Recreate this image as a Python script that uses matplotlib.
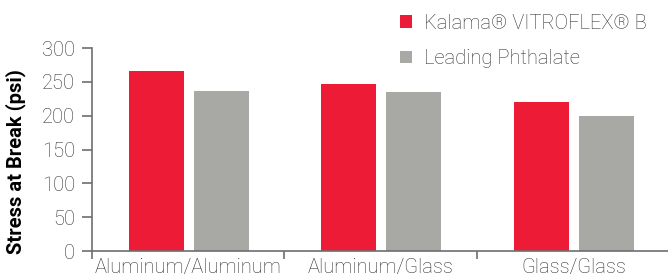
import matplotlib.pyplot as plt
import numpy as np

# data
categories = ['Aluminum/Aluminum', 'Aluminum/Glass', 'Glass/Glass']
vitroflex = [266, 247, 220]
phthalate = [237, 235, 200]
series_names = ['Kalama® VITROFLEX® B', 'Leading Phthalate']
y_ticks = [0, 50, 100, 150, 200, 250, 300]

red = '#ED1B36'
grey = '#A8A8A4'
axis_col = '#6D6E71'
text_col = '#333333'

plt.rcParams['font.family'] = ['Roboto', 'DejaVu Sans']
plt.rcParams['font.weight'] = 'light'

fig = plt.figure(figsize=(6.68, 2.78), dpi=100)
ax = fig.add_axes([0.137, 0.097, 0.866, 0.73])

x = np.arange(len(categories))
w = 0.285
ax.bar(x - 0.165, vitroflex, w, color=red, label=series_names[0])
ax.bar(x + 0.172, phthalate, w, color=grey, label=series_names[1])

ax.set_xlim(-0.5, 2.5)
ax.set_ylim(0, 300)
ax.spines['top'].set_visible(False)
ax.spines['right'].set_visible(False)
for s in ['left', 'bottom']:
    ax.spines[s].set_color(axis_col)
    ax.spines[s].set_linewidth(1.2)

ax.set_yticks(y_ticks)
ax.set_yticklabels([str(v) for v in y_ticks])
ax.tick_params(axis='y', length=7, width=1.2, color=axis_col, labelsize=14.5,
               labelcolor=text_col, pad=5)

ax.set_xticks(x)
ax.set_xticklabels(categories)
ax.tick_params(axis='x', which='major', length=0, labelsize=14.5,
               labelcolor=text_col, pad=5)
ax.set_xticks([-0.5, 0.5, 1.5], minor=True)
ax.tick_params(axis='x', which='minor', length=6, width=1.2, color=axis_col)

ax.set_ylabel('Stress at Break (psi)', fontsize=14.5, fontweight='bold',
              color='black')
ax.yaxis.set_label_coords(-0.113, 0.44)

leg = fig.legend(loc='upper left', bbox_to_anchor=(0.572, 1.015), frameon=False,
                 fontsize=14.5, handlelength=0.6, handleheight=0.6,
                 handletextpad=0.6, labelspacing=0.8, labelcolor=text_col)

fig.savefig('out.png', dpi=100)
